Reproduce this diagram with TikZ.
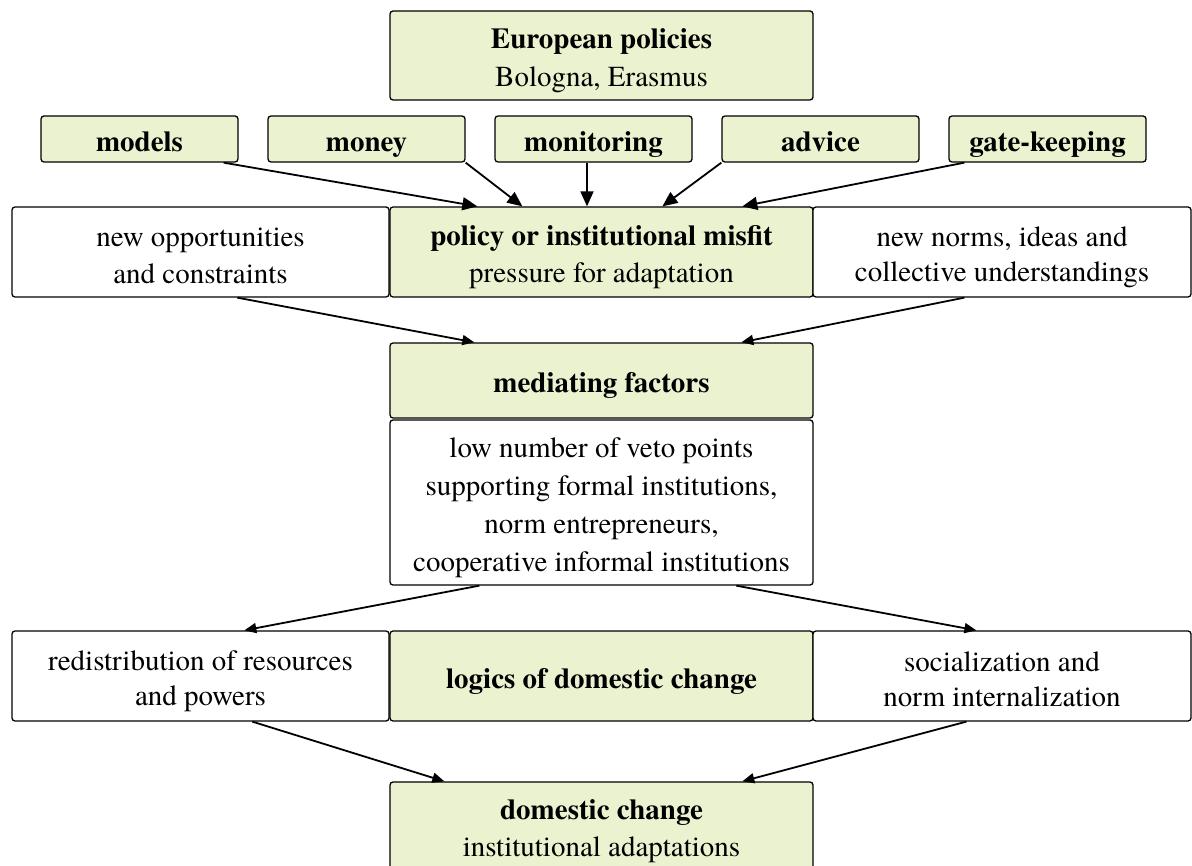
\documentclass[tikz,border=0pt]{standalone}
\usepackage{fontspec}
\setmainfont{texgyretermes}[Extension=.otf, UprightFont=*-regular, BoldFont=*-bold,
  ItalicFont=*-italic, BoldItalicFont=*-bolditalic]
\usetikzlibrary{arrows.meta,calc}
\definecolor{boxgreen}{RGB}{235,242,208}
% one line of box text: fixed height and depth so that all boxes line up
\newcommand{\rowstrut}{\rule[-4.5pt]{0pt}{35pt}}
\begin{document}
\begin{tikzpicture}[x=1pt,y=-1pt,
  box/.style={draw=black, line width=1.3pt, rounded corners=3pt, align=center,
    inner sep=0pt, font=\fontsize{29}{35}\selectfont},
  gbox/.style={box, fill=boxgreen},
  wbox/.style={box, fill=white},
  link/.style={line width=1.8pt, -{Triangle[length=12pt,width=10pt]}},
  biglink/.style={line width=1.8pt, -{Triangle[length=15pt,width=13pt]}}]
\useasboundingbox (0,0) rectangle (1192,866);

% top source
\node[gbox, minimum width=423pt, minimum height=89pt] (eu) at (601.5,55.5)
  {\rowstrut\textbf{European policies}\\\rowstrut Bologna, Erasmus};

% instruments
\node[gbox, minimum width=197pt, minimum height=46pt] (models) at (139.5,139) {\rowstrut\textbf{models}};
\node[gbox, minimum width=197pt, minimum height=46pt] (money) at (366.5,139) {\rowstrut\textbf{money}};
\node[gbox, minimum width=197pt, minimum height=46pt] (monitoring) at (593.5,139) {\rowstrut\textbf{monitoring}};
\node[gbox, minimum width=197pt, minimum height=46pt] (advice) at (820.5,139) {\rowstrut\textbf{advice}};
\node[gbox, minimum width=197pt, minimum height=46pt] (gate) at (1047.5,139) {\rowstrut\textbf{gate-keeping}};

% misfit row
\node[wbox, minimum width=377pt, minimum height=90pt] (opp) at (200.5,252)
  {\rowstrut new opportunities\\\rowstrut and constraints};
\node[gbox, minimum width=423pt, minimum height=90pt] (misfit) at (601.5,252)
  {\rowstrut\textbf{policy or institutional misfit}\\\rowstrut pressure for adaptation};
\node[wbox, minimum width=378pt, minimum height=90pt] (norms) at (1002,252)
  {\rowstrut new norms, ideas and\\\rowstrut collective understandings};

% mediating factors
\node[gbox, minimum width=423pt, minimum height=75pt] (med) at (601.5,380.5)
  {\rowstrut\textbf{mediating factors}};
\node[wbox, minimum width=423pt, minimum height=165pt] (medlist) at (601.5,502.5)
  {\rowstrut low number of veto points\\\rowstrut supporting formal institutions,\\\rowstrut norm entrepreneurs,\\\rowstrut cooperative informal institutions};

% logics row
\node[wbox, minimum width=377pt, minimum height=90pt] (redist) at (200.5,676)
  {\rowstrut redistribution of resources\\\rowstrut and powers};
\node[gbox, minimum width=423pt, minimum height=90pt] (logics) at (601.5,676)
  {\rowstrut\textbf{logics of domestic change}};
\node[wbox, minimum width=378pt, minimum height=90pt] (social) at (1002,676)
  {\rowstrut socialization and\\\rowstrut norm internalization};

% outcome
\node[gbox, minimum width=423pt, minimum height=88pt] (dom) at (601.5,826)
  {\rowstrut\textbf{domestic change}\\\rowstrut institutional adaptations};

% connectors into the misfit box
\draw[biglink] ([xshift=-15pt]models.south east) -- ([xshift=88pt]misfit.north west);
\draw[biglink] (money.south east) -- ([xshift=133pt]misfit.north west);
\draw[biglink] ($(monitoring.south)+(-6.5,0)$) -- ($(monitoring.south |- misfit.north)+(-6.5,0)$);
\draw[biglink] (advice.south west) -- ([xshift=273pt]misfit.north west);
\draw[biglink] ([xshift=16pt]gate.south west) -- ([xshift=353pt]misfit.north west);

% into mediating factors
\draw[link] ([xshift=226pt]opp.south west) -- ([xshift=85pt]med.north west);
\draw[link] ([xshift=152pt]norms.south west) -- ([xshift=352pt]med.north west);

% out to the logics
\draw[link] ([xshift=90pt]medlist.south west) -- ([xshift=233pt]redist.north west);
\draw[link] ([xshift=347pt]medlist.south west) -- ([xshift=164pt]social.north west);

% into domestic change
\draw[link] ([xshift=241pt]redist.south west) -- ([xshift=55pt]dom.north west);
\draw[link] ([xshift=154pt]social.south west) -- ([xshift=353pt]dom.north west);
\end{tikzpicture}
\end{document}
